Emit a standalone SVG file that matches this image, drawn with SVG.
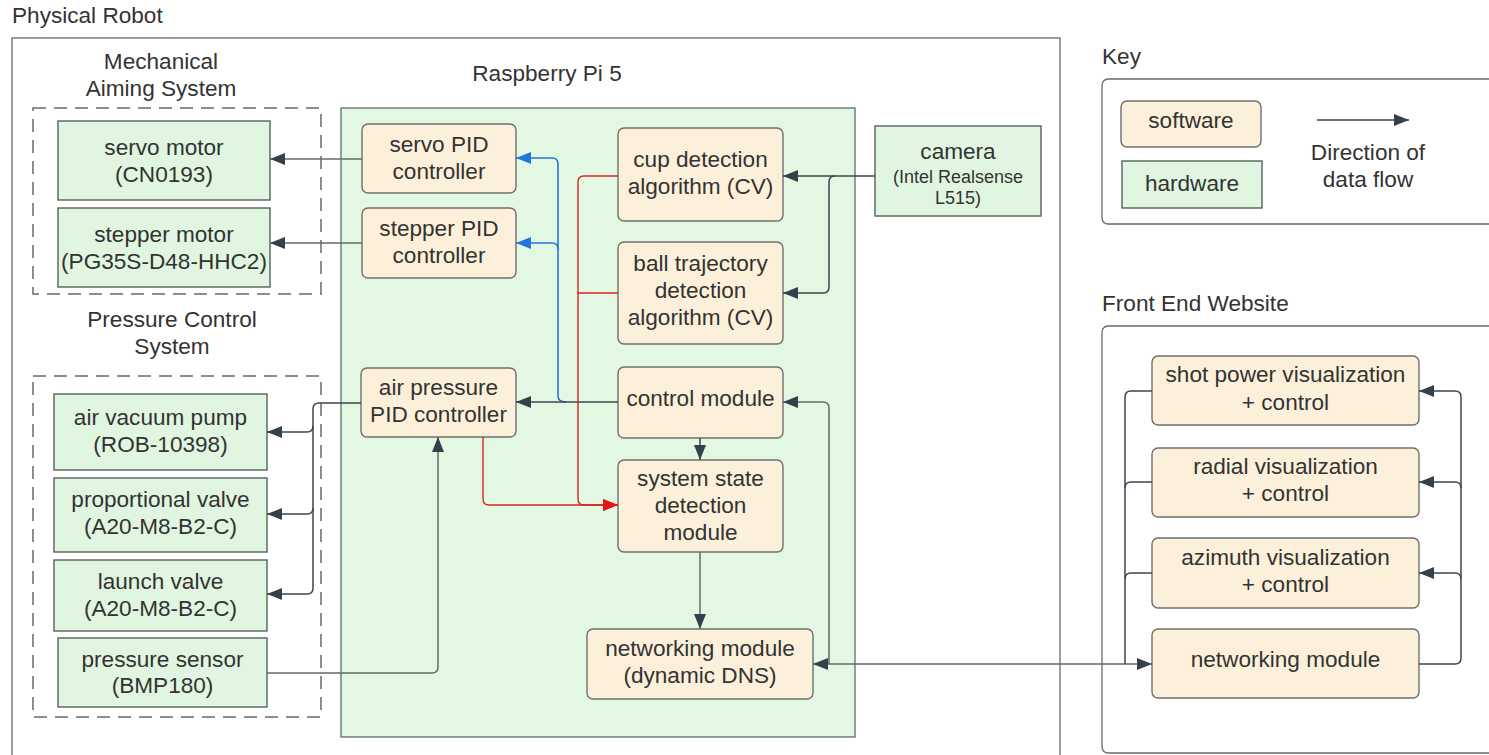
<svg xmlns="http://www.w3.org/2000/svg" width="1489" height="755" viewBox="0 0 1489 755">
<style>
text{font-family:"Liberation Sans",Arial,sans-serif;fill:#333;font-size:22.6px}
.c{text-anchor:middle}
.sm{font-size:18px}
.frame{fill:none;stroke:#6a6a6a;stroke-width:1.3}
.dash{fill:none;stroke:#6a6a6a;stroke-width:1.5;stroke-dasharray:13 8}
.hw{fill:#e0f6e0;stroke:#56625c;stroke-width:1.4}
.sw{fill:#fdf0da;stroke:#6f6f6f;stroke-width:1.4}
.ln{fill:none;stroke:#3d4650;stroke-width:1.5}
.gr{fill:none;stroke:#5f6e68;stroke-width:1.5}
.blue{fill:none;stroke:#2277dd;stroke-width:1.6}
.red{fill:none;stroke:#dd2222;stroke-width:1.4}
</style>
<defs>
<marker id="ad" markerUnits="userSpaceOnUse" markerWidth="15" markerHeight="12" refX="15" refY="6" orient="auto-start-reverse"><path d="M0,0 L15,6 L0,12 z" fill="#36404a"/></marker>
<marker id="ab" markerUnits="userSpaceOnUse" markerWidth="15" markerHeight="12" refX="15" refY="6" orient="auto"><path d="M0,0 L15,6 L0,12 z" fill="#2277dd"/></marker>
<marker id="ar" markerUnits="userSpaceOnUse" markerWidth="15" markerHeight="12" refX="15" refY="6" orient="auto"><path d="M0,0 L15,6 L0,12 z" fill="#e01818"/></marker>
</defs>
<rect width="1489" height="755" fill="#ffffff"/>

<g id="physical-robot">
<rect class="frame" x="12" y="38" width="1048" height="740"/>
<text x="12" y="23">Physical Robot</text>
</g>
<g id="mechanical-aiming-system">
<rect class="dash" x="33" y="108" width="288" height="186"/>
<text class="c" x="161" y="69">Mechanical</text>
<text class="c" x="161" y="96">Aiming System</text>
</g>
<g id="pressure-control-system">
<rect class="dash" x="33" y="376" width="288" height="341"/>
<text class="c" x="172" y="327">Pressure Control</text>
<text class="c" x="172" y="354">System</text>
</g>
<g id="raspberry-pi">
<rect x="341" y="108" width="514" height="629" fill="#e2f8e2" stroke="#5f6e68" stroke-width="1.3"/>
<text class="c" x="547" y="81">Raspberry Pi 5</text>
</g>
<g id="key">
<rect class="frame" x="1102" y="79" width="400" height="145" rx="6"/>
<text x="1102" y="64">Key</text>
</g>
<g id="front-end">
<rect class="frame" x="1102" y="326" width="400" height="427" rx="6"/>
<text x="1102" y="311">Front End Website</text>
</g>

<g id="servo-motor"><rect class="hw" x="58" y="121" width="212" height="79"/><text class="c" x="164" y="155">servo motor</text><text class="c" x="164" y="182">(CN0193)</text></g>
<g id="stepper-motor"><rect class="hw" x="58" y="208" width="212" height="79"/><text class="c" x="164" y="242">stepper motor</text><text class="c" x="164" y="269">(PG35S-D48-HHC2)</text></g>
<g id="air-vacuum-pump"><rect class="hw" x="54" y="394" width="213" height="76"/><text class="c" x="160.5" y="425">air vacuum pump</text><text class="c" x="160.5" y="452">(ROB-10398)</text></g>
<g id="proportional-valve"><rect class="hw" x="54" y="478" width="213" height="74"/><text class="c" x="160.5" y="507">proportional valve</text><text class="c" x="160.5" y="534">(A20-M8-B2-C)</text></g>
<g id="launch-valve"><rect class="hw" x="54" y="560" width="213" height="71"/><text class="c" x="160.5" y="589">launch valve</text><text class="c" x="160.5" y="616">(A20-M8-B2-C)</text></g>
<g id="pressure-sensor"><rect class="hw" x="58" y="638" width="209" height="69"/><text class="c" x="162.5" y="667">pressure sensor</text><text class="c" x="162.5" y="693">(BMP180)</text></g>
<g id="camera"><rect class="hw" x="875" y="126" width="166" height="90"/><text class="c" x="958" y="159">camera</text><text class="c sm" x="958" y="183">(Intel Realsense</text><text class="c sm" x="958" y="204">L515)</text></g>

<g id="servo-pid"><rect class="sw" x="362" y="124" width="154" height="69" rx="6"/><text class="c" x="439" y="152">servo PID</text><text class="c" x="439" y="179">controller</text></g>
<g id="stepper-pid"><rect class="sw" x="362" y="208" width="154" height="70" rx="6"/><text class="c" x="439" y="236">stepper PID</text><text class="c" x="439" y="263">controller</text></g>
<g id="air-pressure-pid"><rect class="sw" x="361" y="368" width="155" height="69" rx="6"/><text class="c" x="438.5" y="395">air pressure</text><text class="c" x="438.5" y="422">PID controller</text></g>
<g id="cup-detection"><rect class="sw" x="618" y="128" width="165" height="93" rx="6"/><text class="c" x="700.5" y="167">cup detection</text><text class="c" x="700.5" y="194">algorithm (CV)</text></g>
<g id="ball-trajectory"><rect class="sw" x="618" y="242" width="165" height="102" rx="6"/><text class="c" x="700.5" y="271">ball trajectory</text><text class="c" x="700.5" y="298">detection</text><text class="c" x="700.5" y="325">algorithm (CV)</text></g>
<g id="control-module"><rect class="sw" x="618" y="367" width="165" height="71" rx="6"/><text class="c" x="700.5" y="406">control module</text></g>
<g id="system-state"><rect class="sw" x="618" y="460" width="165" height="92" rx="6"/><text class="c" x="700.5" y="486">system state</text><text class="c" x="700.5" y="513">detection</text><text class="c" x="700.5" y="540">module</text></g>
<g id="pi-networking"><rect class="sw" x="587" y="629" width="226" height="70" rx="6"/><text class="c" x="700" y="656">networking module</text><text class="c" x="700" y="683">(dynamic DNS)</text></g>

<g id="shot-power"><rect class="sw" x="1152" y="356" width="267" height="69" rx="6"/><text class="c" x="1285.5" y="382">shot power visualization</text><text class="c" x="1285.5" y="410">+ control</text></g>
<g id="radial"><rect class="sw" x="1152" y="448" width="267" height="69" rx="6"/><text class="c" x="1285.5" y="474">radial visualization</text><text class="c" x="1285.5" y="501">+ control</text></g>
<g id="azimuth"><rect class="sw" x="1152" y="538" width="267" height="70" rx="6"/><text class="c" x="1285.5" y="565">azimuth visualization</text><text class="c" x="1285.5" y="592">+ control</text></g>
<g id="fe-networking"><rect class="sw" x="1152" y="629" width="267" height="69" rx="6"/><text class="c" x="1285.5" y="667">networking module</text></g>

<g id="key-items">
<rect class="sw" x="1121" y="101" width="140" height="46" rx="6"/><text class="c" x="1191" y="128">software</text>
<rect class="hw" x="1122" y="161" width="140" height="47"/><text class="c" x="1192" y="191">hardware</text>
<path class="ln" d="M1317,120 H1409" marker-end="url(#ad)"/>
<text class="c" x="1368" y="160">Direction of</text>
<text class="c" x="1368" y="187">data flow</text>
</g>

<g id="connectors">
<path class="gr" d="M362,159 H270" marker-end="url(#ad)"/>
<path class="gr" d="M362,243 H270" marker-end="url(#ad)"/>
<path class="ln" d="M875,176 H783" marker-end="url(#ad)"/>
<path class="ln" d="M835,176 Q829,176 829,182 V287 Q829,293 823,293 H783" marker-end="url(#ad)"/>
<path class="blue" d="M566,402 Q558,402 558,396 V164 Q558,158 552,158 H516" marker-end="url(#ab)"/>
<path class="blue" d="M558,249 Q558,243 552,243 H516" marker-end="url(#ab)"/>
<path class="ln" d="M618,402 H516" marker-end="url(#ad)"/>
<path class="red" d="M618,176 H584 Q578,176 578,182 V499 Q578,505 584,505 H618" marker-end="url(#ar)"/>
<path class="red" d="M618,293 H578"/>
<path class="red" d="M483,437 V499 Q483,505 489,505 H618" marker-end="url(#ar)"/>
<path class="ln" d="M700,438 V460" marker-end="url(#ad)"/>
<path class="gr" d="M700,552 V629" marker-end="url(#ad)"/>
<path class="gr" d="M813,664 H1152" marker-start="url(#ad)" marker-end="url(#ad)"/>
<path class="gr" d="M829,664 V408 Q829,402 823,402 H783" marker-end="url(#ad)"/>
<path class="ln" d="M361,403 H319 Q313,403 313,409 V588 Q313,594 307,594 H267" marker-end="url(#ad)"/>
<path class="ln" d="M313,426 Q313,432 307,432 H267" marker-end="url(#ad)"/>
<path class="ln" d="M313,508 Q313,514 307,514 H267" marker-end="url(#ad)"/>
<path class="gr" d="M267,673 H432 Q438,673 438,667 V437" marker-end="url(#ad)"/>
<path class="ln" d="M1152,391 H1131 Q1125,391 1125,397 V664"/>
<path class="ln" d="M1152,482 H1131 Q1125,482 1125,488"/>
<path class="ln" d="M1152,573 H1131 Q1125,573 1125,579"/>
<path class="ln" d="M1419,664 H1455 Q1461,664 1461,658 V397 Q1461,391 1455,391 H1419" marker-end="url(#ad)"/>
<path class="ln" d="M1461,488 Q1461,482 1455,482 H1419" marker-end="url(#ad)"/>
<path class="ln" d="M1461,579 Q1461,573 1455,573 H1419" marker-end="url(#ad)"/>
</g>
</svg>
